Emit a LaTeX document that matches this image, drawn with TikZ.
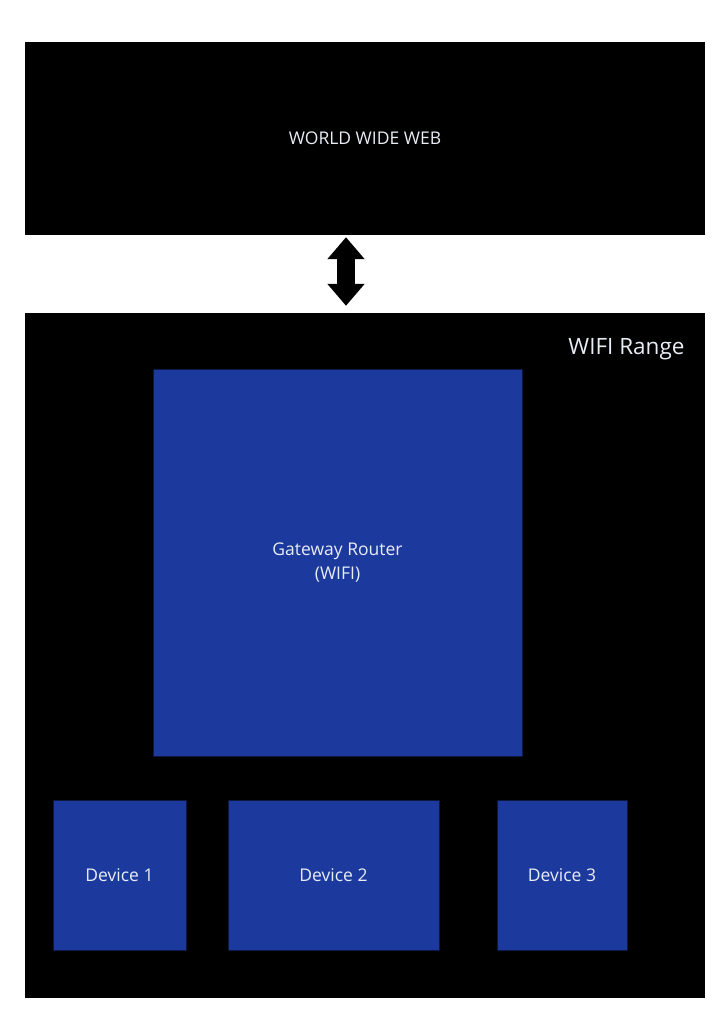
\documentclass[tikz,border=0pt]{standalone}
\usepackage{fontspec}
\setmainfont{Open Sans}
\usepackage{tikz}
\usetikzlibrary{arrows.meta, positioning, calc}
\definecolor{cBlue}{RGB}{28,58,158}
\definecolor{cLabel}{RGB}{232,236,245}
\tikzset{
	zone/.style   ={rectangle, draw=none, fill=black, inner sep=0pt, text=cLabel, align=center},
	unit/.style   ={rectangle, draw=black!60!cBlue, thin, fill=cBlue, inner sep=0pt, text=cLabel, align=center},
	biarrow/.style={{Triangle[length=22pt, width=36pt]}-{Triangle[length=22pt, width=36pt]}, line width=18pt, black},
}
\begin{document}
\begin{tikzpicture}[x=1pt, y=-1pt, every node/.style={font=\fontsize{17.5}{24}\selectfont}]
	\useasboundingbox[fill=white] (0,0) rectangle (724,1024);
	\node[zone, minimum width=680pt, minimum height=193pt] (www) at (365,138.5) {WORLD WIDE WEB};
	\node[zone, minimum width=680pt, minimum height=685pt] (wifi) at (365,655.5) {};
	\node[text=cLabel, font=\fontsize{22.5}{24}\selectfont, anchor=east] (range) at (688,349) {WIFI Range};
	\node[unit, minimum width=369pt, minimum height=387pt] (router) at (337.5,562.5) {Gateway Router\\(WIFI)};
	\node[unit, minimum width=133pt, minimum height=150pt] (dev1) at (119.5,875) {Device 1};
	\node[unit, minimum width=211pt, minimum height=150pt] (dev2) at (333.5,875) {Device 2};
	\node[unit, minimum width=130pt, minimum height=150pt] (dev3) at (562,875) {Device 3};
	% link between the web and the wifi zone
	\coordinate (ax) at (346,0);
	\draw[biarrow, shorten <=2pt, shorten >=7pt] (www.south -| ax) -- (wifi.north -| ax);
\end{tikzpicture}
\end{document}
